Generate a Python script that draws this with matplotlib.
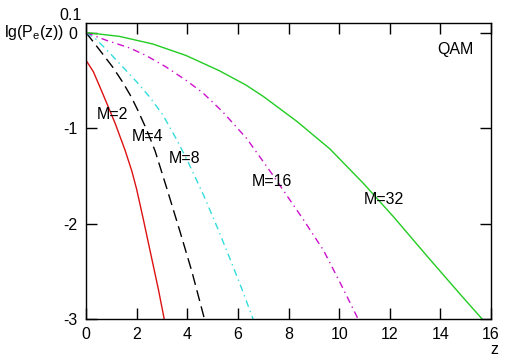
import matplotlib
matplotlib.use('agg')
import matplotlib.pyplot as plt

plt.rcParams['font.family'] = ['Liberation Sans', 'DejaVu Sans']
plt.rcParams['axes.unicode_minus'] = False

# values (z, lg Pe)
z_m2 = [0, 0.29, 0.55, 0.82, 1.15, 1.54, 1.81, 2.0, 2.26, 2.6, 2.86, 3.09]
p_m2 = [-0.29, -0.41, -0.57, -0.74, -0.95, -1.23, -1.45, -1.64, -1.95, -2.37, -2.69, -3.0]

z_m4 = [0, 0.53, 1.05, 1.45, 1.78, 2.04, 2.4, 2.73, 3.19, 3.72, 4.18, 4.68]
p_m4 = [0, -0.18, -0.36, -0.52, -0.67, -0.81, -1.02, -1.24, -1.63, -2.09, -2.50, -3.0]

z_m8 = [0, 0.4, 0.92, 1.45, 1.98, 2.5, 3.03, 3.58, 4.04, 4.64, 5.17, 5.69, 6.15, 6.6]
p_m8 = [0, -0.07, -0.21, -0.36, -0.51, -0.67, -0.86, -1.12, -1.36, -1.70, -2.03, -2.37, -2.68, -3.0]

z_m16 = [0, 0.79, 1.71, 2.37, 3.16, 3.95, 4.61, 5.40, 6.35, 7.40, 8.59, 9.38, 10.04, 10.75]
p_m16 = [0, -0.08, -0.16, -0.24, -0.36, -0.50, -0.63, -0.83, -1.11, -1.50, -1.96, -2.28, -2.62, -3.0]

z_m32 = [0, 1.32, 2.64, 3.95, 5.27, 6.32, 7.01, 8.33, 9.64, 10.96, 12.15, 13.47, 14.78, 15.65]
p_m32 = [0, -0.04, -0.12, -0.24, -0.40, -0.55, -0.67, -0.93, -1.22, -1.58, -1.93, -2.34, -2.74, -3.0]

labels = ['M=2', 'M=4', 'M=8', 'M=16', 'M=32']
label_pos = [(1.05, -0.86), (2.45, -1.09), (3.9, -1.32), (7.35, -1.56), (11.75, -1.75)]

fig = plt.figure(figsize=(5.06, 3.62), dpi=100)
ax = fig.add_axes([86/506, 43/362, 405/506, 296/362])

ax.plot(z_m2, p_m2, color='#dd1111', lw=1.0)
ax.plot(z_m4, p_m4, color='black', lw=1.0, dashes=(8, 4))
ax.plot(z_m8, p_m8, color='#33dddd', lw=1.0, dashes=(5, 3, 1, 3))
ax.plot(z_m16, p_m16, color='#cc11cc', lw=1.0, dashes=(5, 3, 1, 3))
ax.plot(z_m32, p_m32, color='#22cc22', lw=1.0)

for lab, (x, y) in zip(labels, label_pos):
    ax.text(x, y, lab, fontsize=11.5, ha='center', va='center', zorder=5)
ax.text(14.6, -0.18, 'QAM', fontsize=11.5, ha='center', va='center')

ax.set_xlim(0, 16)
ax.set_ylim(-3, 0.1)
ax.set_xticks(range(0, 17, 2))
ax.set_yticks([-3, -2, -1, 0])
ax.set_yticklabels(['-3', '-2', '-1', '0'])
ax.tick_params(direction='in', length=8, top=True, right=True,
               labelsize=11.5, pad=6, width=1)
for s in ax.spines.values():
    s.set_linewidth(1)

fig.text(82/506, 1 - 15/362, '0.1', fontsize=11.5, ha='right', va='center')
fig.text(64/506, 1 - 33/362, 'lg(P$_\\mathregular{e}$(z))', fontsize=11.5,
         ha='right', va='center')
fig.text(494/506, 1 - 349/362, 'z', fontsize=11.5, ha='center', va='center')

plt.savefig('out.png', dpi=100)
plt.close()
